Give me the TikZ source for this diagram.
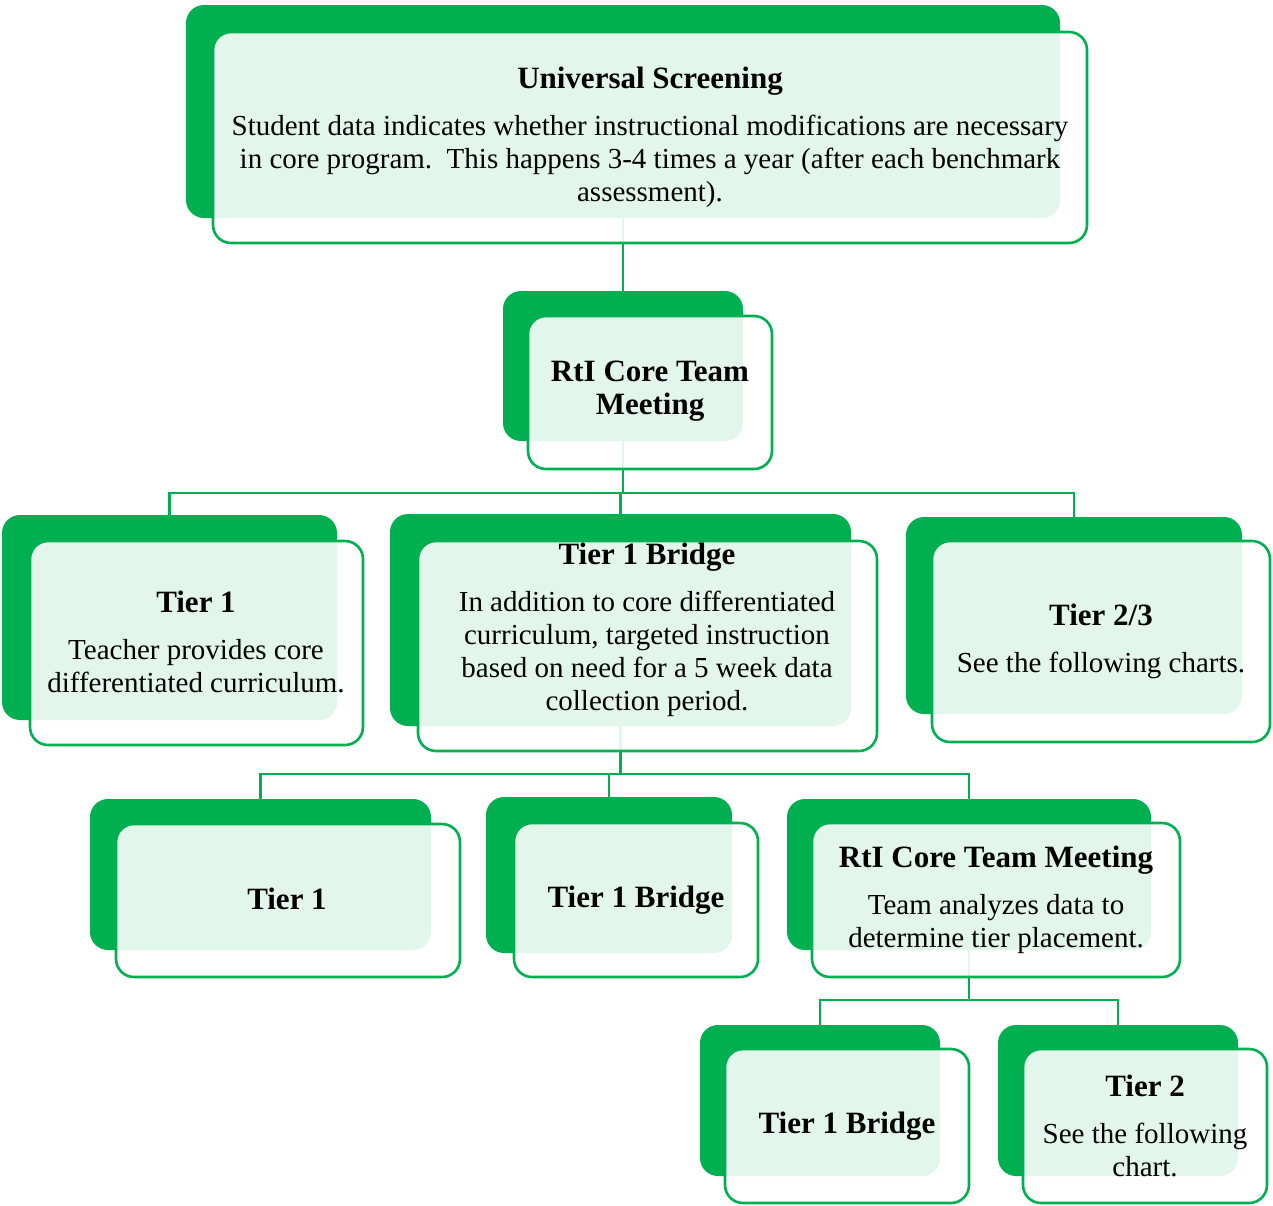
\documentclass[tikz,border=0pt]{standalone}
\usepackage{fontspec}
\setmainfont{Liberation Serif}
\definecolor{bgreen}{HTML}{00B050}
\pgfdeclarelayer{bg}
\pgfsetlayers{bg,main}
\newcommand\ttl[1]{{\fontsize{31}{33}\selectfont\bfseries #1}}
\tikzset{
  backbox/.style={fill=bgreen, draw=none, rounded corners=18pt, inner sep=0pt, outer sep=0pt},
  frontbox/.style={draw=bgreen, line width=2.6pt, fill=white, fill opacity=0.89, rounded corners=18pt, inner sep=0pt, outer sep=0pt},
  conn/.style={draw=bgreen, line width=2.6pt},
  lbl/.style={align=center, inner sep=0pt, text=black, font=\fontsize{29}{33}\selectfont}
}
\newcommand\boxat[6][backbox]{%
  \node[#1, minimum width={(#5-#3)*1pt}, minimum height={(#6-#4)*1pt}] (#2) at ({(#3+#5)/2},{(#4+#6)/2}) {};}
\begin{document}
\begin{tikzpicture}[x=1pt,y=-1pt]
\useasboundingbox (0,0) rectangle (1273,1205);
% Universal Screening
\boxat{usb}{186}{5}{1060}{218}
\boxat[frontbox]{usf}{213}{32}{1087}{243}
\node[lbl] (ust) at (650,137) {\ttl{Universal Screening}\\[14pt]Student data indicates whether instructional modifications are necessary\\in core program.\ \ This happens 3-4 times a year (after each benchmark\\assessment).};
% RtI Core Team Meeting
\boxat{rtib}{503}{291}{743}{441}
\boxat[frontbox]{rtif}{528}{316}{772}{469}
\node[lbl] (rtit) at (650,391) {\ttl{RtI Core Team}\\\ttl{Meeting}};
% Tier 1
\boxat{taab}{2}{515}{337}{720}
\boxat[frontbox]{taaf}{30}{541}{363}{745}
\node[lbl] (taat) at (196,642) {\ttl{Tier 1}\\[14pt]Teacher provides core\\differentiated curriculum.};
% Tier 1 Bridge
\boxat{tbb}{390}{514}{851}{726}
\boxat[frontbox]{tbf}{418}{541}{877}{751}
\node[lbl] (tbt) at (647,630) {\ttl{Tier 1 Bridge}\\[14pt]In addition to core differentiated\\curriculum, targeted instruction\\based on need for a 5 week data\\collection period.};
% Tier 2/3
\boxat{tcb}{906}{517}{1242}{714}
\boxat[frontbox]{tcf}{932}{541}{1270}{742}
\node[lbl] (tct) at (1101,641) {\ttl{Tier 2/3}\\[14pt]See the following charts.};
% Row 3
\boxat{rab}{90}{799}{431}{950}
\boxat[frontbox]{raf}{116}{824}{460}{977}
\node[lbl] (rat) at (287,899) {\ttl{Tier 1}};
\boxat{rbb}{486}{797}{732}{953}
\boxat[frontbox]{rbf}{514}{823}{758}{977}
\node[lbl] (rbt) at (636,900) {\ttl{Tier 1 Bridge}};
\boxat{rcb}{787}{799}{1151}{950}
\boxat[frontbox]{rcf}{812}{823}{1180}{977}
\node[lbl] (rct) at (996,900) {\ttl{RtI Core Team Meeting}\\[14pt]Team analyzes data to\\determine tier placement.};
% Row 4
\boxat{sab}{700}{1025}{940}{1176}
\boxat[frontbox]{saf}{725}{1049}{969}{1203}
\node[lbl] (sat) at (847,1126) {\ttl{Tier 1 Bridge}};
\boxat{sbb}{998}{1025}{1238}{1176}
\boxat[frontbox]{sbf}{1023}{1049}{1267}{1203}
\node[lbl] (sbt) at (1145,1126) {\ttl{Tier 2}\\[14pt]See the following\\chart.};
% connectors
\coordinate (bus1) at (623,493);
\coordinate (bus2) at (620.5,774);
\coordinate (bus3) at (969,1000);
\begin{pgfonlayer}{bg}
\draw[conn] (usb.south) -- (rtib.north);
\draw[conn] (rtib.south) -- (bus1);
\draw[conn] (bus1) -| (taab.north);
\draw[conn] (bus1) -| (tbb.north);
\draw[conn] (bus1) -| (tcb.north);
\draw[conn] (tbb.south) -- (bus2);
\draw[conn] (bus2) -| (rab.north);
\draw[conn] (bus2) -| (rbb.north);
\draw[conn] (bus2) -| (rcb.north);
\draw[conn] (rcb.south) -- (bus3);
\draw[conn] (bus3) -| (sab.north);
\draw[conn] (bus3) -| (sbb.north);
\end{pgfonlayer}
\end{tikzpicture}
\end{document}
